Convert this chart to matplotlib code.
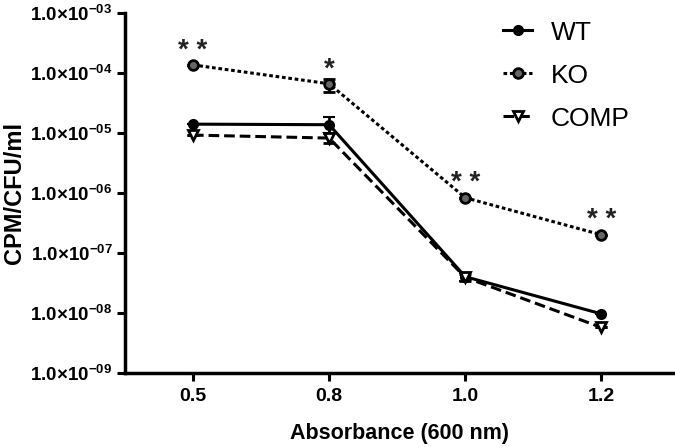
import numpy as np
import matplotlib
matplotlib.use('Agg')
import matplotlib.pyplot as plt
from matplotlib.lines import Line2D
from matplotlib.ticker import FixedLocator, FuncFormatter, NullLocator

plt.rcParams['font.family'] = ['Liberation Sans', 'DejaVu Sans']
plt.rcParams['mathtext.fontset'] = 'custom'
plt.rcParams['mathtext.rm'] = 'Liberation Sans'
plt.rcParams['mathtext.bf'] = 'Liberation Sans:bold'

# data
absorbance = ['0.5', '0.8', '1.0', '1.2']
wt = [1.40e-5, 1.37e-5, 4.0e-8, 9.6e-9]
wt_lo = [1.40e-5, 1.00e-5, 3.4e-8, 9.6e-9]
wt_hi = [1.40e-5, 1.85e-5, 4.7e-8, 9.6e-9]
ko = [1.36e-4, 6.6e-5, 8.3e-7, 2.0e-7]
ko_lo = [1.36e-4, 4.9e-5, 8.3e-7, 2.0e-7]
ko_hi = [1.36e-4, 7.9e-5, 8.3e-7, 2.0e-7]
comp = [9.2e-6, 8.2e-6, 3.9e-8, 5.7e-9]
comp_lo = [9.2e-6, 6.8e-6, 3.4e-8, 5.7e-9]
comp_hi = [9.2e-6, 1.0e-5, 4.5e-8, 5.7e-9]
stars = ['* *', '*', '* *', '* *']
y_ticks = [1e-3, 1e-4, 1e-5, 1e-6, 1e-7, 1e-8, 1e-9]

x = np.arange(len(absorbance))

fig = plt.figure(figsize=(6.75, 4.47), dpi=100)
ax = fig.add_axes([0.185, 0.166, 0.815, 0.805])


def err(v, lo, hi):
    v = np.array(v)
    return [v - np.array(lo), np.array(hi) - v]


styles = {
    'WT': dict(ls='-', marker='o', ms=6.5, mfc='black', mew=1.5),
    'KO': dict(ls=(0, (1.2, 0.9)), marker='o', ms=7, mfc='#666666', mew=2),
    'COMP': dict(ls=(0, (3.5, 1.6)), marker='v', ms=7, mfc='white', mew=2),
}
series = [('WT', wt, wt_lo, wt_hi), ('KO', ko, ko_lo, ko_hi),
          ('COMP', comp, comp_lo, comp_hi)]

handles = []
for name, v, lo, hi in series:
    st = styles[name]
    ax.errorbar(x, v, yerr=err(v, lo, hi), color='black', lw=2.2, mec='black',
                capsize=4, capthick=2, elinewidth=2, **st)
    handles.append(Line2D([], [], color='black', lw=2.2, mec='black', **st))

for xi, yi, s in zip(x, ko, stars):
    ax.annotate(s, (xi, yi), xytext=(0, 1), textcoords='offset points',
                ha='center', va='bottom', fontsize=20, fontweight='bold',
                color='#222222')

ax.set_yscale('log')
ax.set_ylim(1e-9, 1e-3)
ax.set_xlim(-0.5, 3.54)
ax.yaxis.set_major_locator(FixedLocator(y_ticks))
ax.yaxis.set_minor_locator(NullLocator())


def fmt(v, pos):
    e = int(round(np.log10(v)))
    return r'$\mathbf{1.0{\times}10^{-%02d}}$' % (-e)


ax.yaxis.set_major_formatter(FuncFormatter(fmt))
ax.set_xticks(x)
ax.set_xticklabels(absorbance, fontweight='bold')
ax.tick_params(axis='y', labelsize=13.5, width=2.2, length=6, direction='out', pad=3)
ax.tick_params(axis='x', labelsize=14, width=2.2, length=6, direction='out', pad=5)

for s in ['top', 'right']:
    ax.spines[s].set_visible(False)
for s in ['left', 'bottom']:
    ax.spines[s].set_linewidth(2.5)

ax.set_xlabel('Absorbance (600 nm)', fontsize=15.5, fontweight='bold', labelpad=13)
ax.set_ylabel('CPM/CFU/ml', fontsize=17, fontweight='bold', va='center')
ax.yaxis.set_label_coords(-0.2, 0.5)

ax.legend(handles, [s[0] for s in series], loc='upper left',
          bbox_to_anchor=(0.645, 1.045), frameon=False, fontsize=19,
          handlelength=1.1, handletextpad=0.7, labelspacing=0.72)

fig.savefig('out.png', dpi=100)
